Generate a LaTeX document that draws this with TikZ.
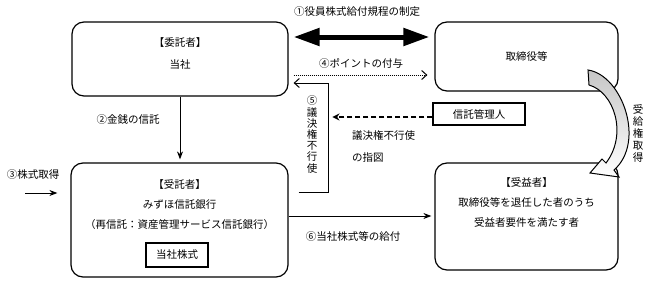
\documentclass[tikz,border=0pt]{standalone}
\usepackage{fontspec}
\setmainfont{Noto Sans CJK JP}
\usepackage{tikz}
\usetikzlibrary{positioning}
\usetikzlibrary{calc}
\usetikzlibrary{arrows.meta}
\tikzstyle{party} = [rectangle, rounded corners=12pt, draw=black, line width=1.2pt]
\tikzstyle{plain} = [rectangle, draw=black, line width=1.1pt, font=\fontsize{10.5}{13}\selectfont]
\tikzstyle{txt} = [align=center, inner sep=0pt, font=\fontsize{10.5}{20}\selectfont]
\tikzstyle{lbl} = [inner sep=0pt, font=\fontsize{10.5}{13}\selectfont]
\tikzstyle{vtxt} = [align=center, inner sep=0pt, font=\fontsize{10.5}{11.2}\selectfont]
\tikzstyle{arrow} = [line width=1pt,-{Stealth[length=8pt,width=6pt]}]
\tikzstyle{bigarrow} = [line width=5pt,{Triangle[length=26pt,width=17pt]}-{Triangle[length=26pt,width=17pt]}]
\tikzstyle{dotarrow} = [line width=1pt, dash pattern=on 1pt off 1pt,-{Straight Barb[length=5pt,width=9pt]}]
\tikzstyle{dasharrow} = [line width=1.3pt, dash pattern=on 5pt off 3pt,-{Stealth[length=7pt,width=7pt]}]
\tikzstyle{backarrow} = [line width=1pt,-{Straight Barb[length=5pt,width=9pt]}]

\begin{document}
\begin{tikzpicture}[x=1pt,y=1pt]
\useasboundingbox (0,0) rectangle (648,282);
% boxes
\node (itaku) [party, minimum width=216pt, minimum height=74pt] at (180,223) {};
\node (itakutxt) [txt] at ($(itaku.north)+(0,-32)$) {【委託者】\\[2pt]当社};
\node (torishimari) [party, minimum width=183pt, minimum height=69pt, font=\fontsize{10.5}{13}\selectfont] at (526.5,225.5) {取締役等};
\node (jutaku) [party, minimum width=217pt, minimum height=114pt] at (179.5,62) {};
\node (jutakutxt) [txt] at ($(jutaku.north)+(0,-42)$) {【受託者】\\みずほ信託銀行\\（再信託：資産管理サービス信託銀行）};
\node (kabu) [plain, minimum width=62pt, minimum height=24pt] at (177,27) {当社株式};
\node (jueki) [party, minimum width=183pt, minimum height=107pt] at (526.5,65.5) {};
\node (juekitxt) [txt] at ($(jueki.north)+(0,-40)$) {【受益者】\\取締役等を退任した者のうち\\受益者要件を満たす者};
\node (kanri) [plain, minimum width=92pt, minimum height=22pt] at (479,168) {信託管理人};
% labels
\node (rule) [lbl] at (357,270) {①役員株式給付規程の制定};
\node (point) [lbl] at (361,219) {④ポイントの付与};
\node (money) [lbl] at (128,162) {②金銭の信託};
\node (buytxt) [lbl] at (33,107) {③株式取得};
\node (give) [lbl] at (353,45) {⑥当社株式等の給付};
\node (vote) [vtxt] at (312,147.5) {⑤\\議\\決\\権\\不\\行\\使};
\node (order) [lbl, align=left, anchor=west, font=\fontsize{10.5}{22}\selectfont] at (352,136) {議決権不行使\\の指図};
\node (right) [vtxt, font=\fontsize{10.5}{11.8}\selectfont] at (638,148.5) {受\\給\\権\\取\\得};
% connectors
\draw [bigarrow] ($(itaku.east)+(5,22)$) -- ($(itaku.east -| torishimari.west)+(-5,22)$);
\draw [dotarrow] ($(itaku.east)+(5,-16)$) -- ($(itaku.east -| torishimari.west)+(-7,-16)$);
\draw [backarrow] ($(jutaku.east)+(10,28)$) -| ($(itaku.east)+(40,-24)$) -- ($(itaku.east)+(5,-24)$);
\draw [dasharrow] ($(kanri.west)+(0,-3)$) -- ($(kanri.west)+(-100,-3)$);
\draw [arrow, shorten >=3pt] (itaku.south) -- (itaku.south |- jutaku.north);
\coordinate (buy) at (25,89);
\draw [arrow, shorten >=13pt] (buy) -- (buy -| jutaku.west);
\draw [arrow] ($(jutaku.east)+(0,4)$) -- ($(jutaku.east -| jueki.west)+(-3,4)$);
% curved block arrow
\draw [line width=1pt, top color=gray!45, bottom color=white] (588,212) .. controls (622,207) and (646,140) .. (614,112) -- (619,105) -- (590,109) -- (602,123) -- (606,119) .. controls (628,148) and (614,190) .. (589,197) -- cycle;
\end{tikzpicture}
\end{document}
